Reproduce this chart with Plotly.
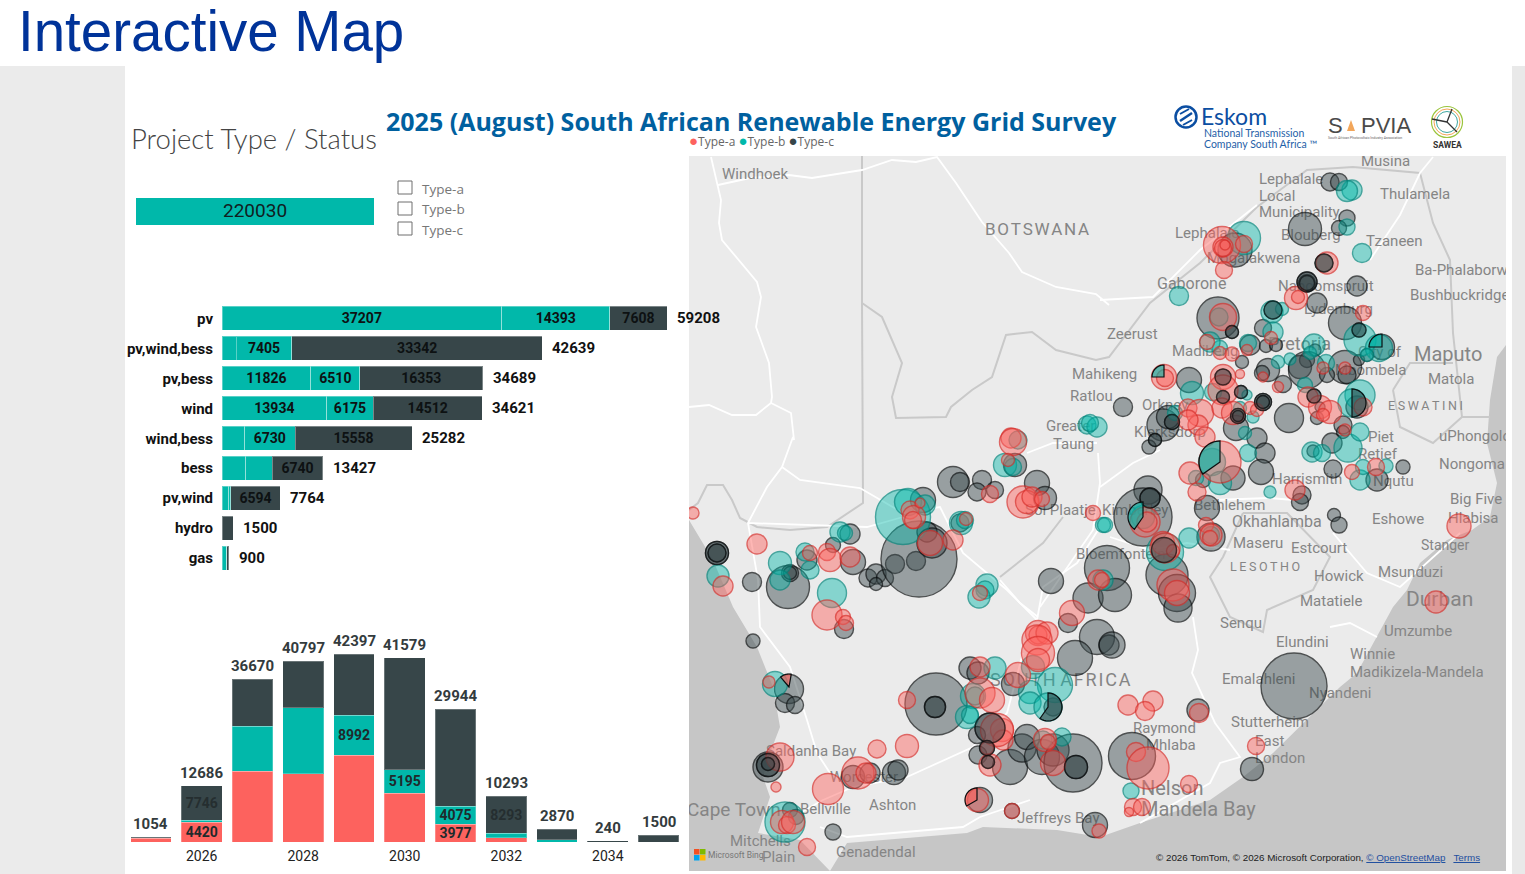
import math

import plotly.graph_objects as go

W = 1525
H = 874

TEAL = "#01B8AA"
DARK = "#374649"
RED = "#FD625E"
LABEL_FONT = "Roboto, sans-serif"

# project type chart
project_types = ["pv", "pv,wind,bess", "pv,bess", "wind", "wind,bess", "bess", "pv,wind", "hydro", "gas"]
type_a_mw = [37207, 1892, 11826, 13934, 2994, 3153, 900, 0, 600]
type_b_mw = [14393, 7405, 6510, 6175, 6730, 3534, 270, 0, 0]
type_c_mw = [7608, 33342, 16353, 14512, 15558, 6740, 6594, 1500, 300]
type_totals = [59208, 42639, 34689, 34621, 25282, 13427, 7764, 1500, 900]
type_a_text = ["37207", "", "11826", "13934", "", "", "", "", ""]
type_b_text = ["14393", "7405", "6510", "6175", "6730", "", "", "", ""]
type_c_text = ["7608", "33342", "16353", "14512", "15558", "6740", "6594", "", ""]

# yearly chart
years = [2025, 2026, 2027, 2028, 2029, 2030, 2031, 2032, 2033, 2034, 2035]
year_a_mw = [800, 4420, 16000, 15340, 19620, 11050, 3977, 1000, 0, 0, 0]
year_b_mw = [150, 520, 10150, 14890, 8992, 5195, 4075, 1000, 500, 0, 0]
year_c_mw = [104, 7746, 10520, 10567, 13785, 25334, 21892, 8293, 2370, 240, 1500]
year_totals = [1054, 12686, 36670, 40797, 42397, 41579, 29944, 10293, 2870, 240, 1500]
year_a_text = ["", "4420", "", "", "", "", "3977", "", "", "", ""]
year_b_text = ["", "", "", "", "8992", "5195", "4075", "", "", "", ""]
year_c_text = ["", "7746", "", "", "", "", "", "8293", "", "", ""]

# map bubbles in map units
bubble_c_x = [1330, 1339, 1347, 1339, 1305, 1324, 1307, 1307, 1357, 1317, 1273, 1218, 1232, 1345, 1359, 1382, 1263, 1250, 1266, 1276,
              1242, 1315, 1307, 1300, 1307, 1345, 1359, 1367, 1268, 1262, 1283, 1327, 1347, 1189, 1223, 1241, 1223, 1263, 1263, 1238,
              1238, 1289, 1123, 1163, 1172, 1168, 1155, 1149, 1236, 1314, 1320, 1357, 1317, 1343, 1343, 1257, 1265, 1261, 1332, 1313,
              1333, 1403, 1377, 1233, 1203, 1148, 1302,
              717, 717, 752, 788, 790, 790, 807, 833, 850, 853, 868, 876, 885, 876, 895, 916, 919, 927, 932, 923, 953, 960, 982, 977, 995,
              960, 1015, 1037, 1045, 1051, 1107, 1088, 1068, 1097, 1109, 1075, 844, 753, 789, 785, 795, 970, 978, 936, 935, 1013, 1053,
              990, 977, 987, 978, 988, 1010, 1022, 1027, 1042, 1053, 1073, 1076, 768, 768, 768, 853, 870, 894, 898, 790, 796, 833, 980,
              1012, 1095,
              1143, 1150, 1207, 1300, 1334, 1339, 1211, 1164, 1167, 1177, 1178, 1115, 1112, 1294, 1198, 1132, 1252, 1235]
bubble_c_y = [182, 182, 218, 228, 229, 263, 282, 283, 286, 303, 310, 318, 332, 323, 330, 347, 328, 345, 346, 345,
              362, 350, 360, 367, 370, 367, 360, 355, 370, 373, 384, 375, 375, 380, 377, 392, 397, 402, 402, 416,
              416, 418, 407, 425, 422, 417, 440, 447, 428, 396, 407, 407, 418, 425, 432, 438, 453, 472, 443, 451,
              469, 467, 480, 478, 480, 490, 495,
              553, 553, 582, 587, 573, 573, 560, 545, 534, 562, 578, 574, 578, 584, 564, 561, 559, 532, 543, 500, 482, 482, 480, 492, 490,
              523, 465, 483, 498, 581, 568, 598, 623, 637, 645, 658, 629, 641, 689, 703, 705, 668, 673, 704, 707, 684, 707,
              728, 735, 748, 755, 762, 767, 748, 737, 757, 750, 763, 767, 767, 765, 764, 777, 773, 773, 770, 810, 817, 832, 800,
              811, 825,
              517, 498, 508, 502, 515, 525, 537, 550, 575, 593, 608, 595, 645, 686, 710, 756, 769, 250]
bubble_c_size = [18, 17, 16, 15, 33, 18, 20, 17, 20, 20, 18, 42, 13, 33, 14, 25, 17, 20, 13, 13,
                 13, 12, 15, 23, 37, 33, 11, 13, 23, 15, 17, 15, 18, 25, 16, 13, 13, 17, 13, 15,
                 11, 29, 19, 32, 15, 23, 13, 14, 25, 14, 10, 22, 13, 18, 13, 20, 20, 25, 20, 12,
                 18, 14, 22, 24, 15, 28, 18,
                 23, 18, 19, 43, 17, 13, 20, 15, 20, 25, 18, 20, 17, 13, 19, 19, 76, 20, 30, 25, 31, 19, 19, 18, 17,
                 18, 23, 25, 23, 25, 45, 30, 19, 35, 20, 35, 19, 14, 29, 19, 17, 22, 22, 62, 21, 23, 18,
                 30, 17, 15, 18, 13, 35, 28, 25, 35, 32, 58, 23, 30, 23, 13, 23, 20, 23, 20, 15, 15, 16, 25,
                 15, 25,
                 58, 20, 25, 17, 13, 16, 28, 25, 42, 37, 28, 33, 26, 66, 22, 47, 23, 34]

bubble_b_x = [1352, 1347, 1347, 1362, 1324, 1244, 1179, 1272, 1282, 1219, 1273, 1248, 1220, 1210, 1314, 1310, 1360, 1379, 1367, 1290,
              1278, 1326, 1305, 1360, 1352, 1192, 1213, 1247, 1175, 1240, 1245, 1253, 1248, 1212, 1196, 1220, 1270, 1312, 1322, 1348,
              1360, 1360, 1363, 1386,
              1087, 1097, 1090, 1018, 1005, 1013, 903, 908, 925, 961, 965, 840, 845, 718, 780, 780, 805, 810, 832, 987, 985, 979,
              1103, 1105, 775, 995, 973, 975, 967, 970, 1033, 1055, 1030, 1030, 1048, 1062, 1043, 785,
              1143, 1189, 1165, 1103, 1131, 1211]
bubble_b_y = [190, 191, 227, 253, 263, 238, 296, 312, 309, 317, 332, 343, 348, 342, 345, 353, 340, 348, 355, 359,
              362, 363, 385, 395, 403, 393, 392, 395, 413, 408, 433, 417, 453, 462, 478, 483, 492, 452, 453, 448,
              432, 480, 467, 466,
              425, 427, 423, 440, 465, 467, 517, 502, 505, 523, 520, 532, 533, 576, 563, 580, 552, 570, 593, 585, 590, 597,
              525, 525, 684, 668, 696, 696, 717, 715, 667, 685, 692, 703, 707, 737, 740, 822,
              517, 538, 552, 580, 791, 535]
bubble_b_size = [20, 21, 16, 19, 17, 33, 19, 22, 13, 18, 20, 17, 15, 20, 22, 13, 32, 27, 13, 12,
                 13, 17, 15, 30, 28, 23, 17, 10, 15, 13, 13, 12, 17, 27, 15, 23, 12, 20, 17, 28,
                 18, 20, 15, 14,
                 18, 20, 17, 18, 23, 17, 55, 27, 20, 23, 17, 20, 15, 22, 23, 20, 18, 18, 29, 22, 18, 22,
                 15, 15, 25, 22, 25, 18, 23, 17, 23, 35, 23, 22, 28, 18, 18, 40,
                 23, 20, 37, 20, 16, 17]

bubble_a_x = [1327, 1222, 1223, 1223, 1225, 1244, 1224, 1296, 1298, 1363, 1223, 1207, 1220, 1232, 1247, 1271, 1164, 1165, 1240, 1223,
              1223, 1263, 1345, 1323, 1278, 1188, 1200, 1198, 1188, 1205, 1222, 1250, 1257, 1308, 1320, 1330, 1323, 1363, 1345, 1220,
              1190, 1197, 1295, 1352, 1376, 1233,
              693, 757, 723, 810, 827, 830, 850, 827, 843, 846, 910, 914, 913, 920, 930, 953, 966, 1011, 1013, 1008, 990, 1023, 1027,
              1032, 1042, 1093, 1098, 1072, 980, 1038, 1038, 1047, 1037, 1038, 1038, 1018, 980, 980, 992, 907, 1002, 1003, 997, 907, 877,
              780, 776, 769, 858, 866, 828, 807, 782, 787, 793, 977, 1012, 1099, 987, 990, 1045, 1048, 1053,
              1145, 1147, 1163, 1165, 1173, 1173, 1177, 1206, 1211, 1210, 1102, 1459, 1436, 1128, 1153, 1145, 1199, 1256, 1136, 1148, 1189,
              1133, 1142, 1129]
bubble_a_y = [263, 245, 247, 248, 245, 244, 270, 298, 297, 313, 317, 342, 353, 354, 350, 338, 377, 378, 374, 377,
              390, 377, 368, 368, 387, 408, 413, 425, 420, 437, 408, 408, 410, 397, 407, 412, 415, 407, 430, 462,
              473, 492, 490, 472, 467, 413,
              513, 544, 586, 553, 552, 560, 557, 615, 617, 623, 510, 517, 520, 503, 543, 540, 519, 438, 442, 460, 494, 502, 502,
              497, 499, 513, 580, 613, 593, 633, 635, 633, 640, 653, 660, 675, 667, 693, 700, 700, 730, 740, 730, 746, 749,
              757, 787, 682, 773, 773, 789, 847, 822, 825, 822, 800, 811, 831, 748, 765, 740, 742, 763,
              522, 522, 543, 548, 551, 585, 593, 525, 535, 538, 580, 526, 602, 705, 701, 711, 713, 746, 752, 768, 784,
              807, 807, 812]
bubble_a_size = [22, 37, 20, 17, 10, 17, 17, 23, 13, 15, 27, 15, 13, 14, 11, 13, 25, 17, 9, 25,
                 30, 10, 12, 12, 11, 18, 27, 20, 20, 20, 20, 13, 13, 20, 23, 23, 13, 18, 12, 42,
                 22, 18, 20, 15, 17, 23,
                 12, 20, 20, 15, 17, 23, 20, 30, 15, 15, 18, 23, 17, 10, 25, 20, 13, 20, 27, 13, 17, 32, 23,
                 20, 15, 15, 20, 25, 15, 25, 18, 22, 30, 33, 23, 25, 20, 30, 25, 17, 23, 20, 33, 23, 18,
                 28, 10, 12, 32, 20, 31, 17, 23, 17, 23, 23, 15, 14, 13, 22, 23, 15, 25,
                 30, 20, 23, 30, 13, 32, 25, 15, 22, 15, 15, 24, 22, 20, 20, 19, 19, 17, 19, 42, 17,
                 17, 17, 9]

# grey bubbles that sit over the red ones
bubble_top_x = [717, 717, 1307, 1307, 1273, 1223, 1241, 1223, 1263, 1263, 1238, 1238, 1314, 1172, 1155, 768, 768, 990, 987, 988, 1359, 1324, 1232, 1076, 935, 1150, 1164]
bubble_top_y = [553, 553, 282, 283, 310, 377, 392, 397, 402, 402, 416, 416, 396, 422, 440, 765, 764, 728, 748, 762, 330, 263, 332, 767, 707, 498, 550]
bubble_top_size = [23, 18, 20, 15, 18, 16, 13, 13, 17, 13, 15, 11, 14, 15, 13, 23, 13, 30, 15, 13, 14, 18, 13, 23, 21, 20, 25]

# bubbles split into two slices: centre, radius, clockwise angles from north, colour
pie_x = [977, 1382, 1048, 789, 1220, 1143, 1164, 1352]
pie_y = [800, 347, 707, 687, 462, 517, 377, 403]
pie_r = [12, 13, 14, 13, 21, 15, 12, 14]
pie_start = [240, 270, 0, 320, 235, 215, 270, 0]
pie_end = [360, 360, 215, 370, 360, 360, 360, 180]
pie_color = ["rgba(253,98,94,0.65)", "rgba(1,184,170,0.62)", "rgba(55,70,73,0.6)", "rgba(253,98,94,0.65)",
             "rgba(1,184,170,0.62)", "rgba(1,184,170,0.62)", "rgba(1,184,170,0.62)", "rgba(55,70,73,0.6)"]

# map background
sea_x = [689, 713, 733, 757, 773, 780, 770, 763, 770, 758, 800, 830, 689, None,
         1506, 1497, 1490, 1487, 1497, 1490, 1472, 1447, 1420, 1407, 1393, 1377, 1357, 1340, 1307, 1273, 1243, 1210, 1140, 1100, 1057, 983, 967, 847, 830, 1506]
sea_y = [520, 560, 607, 647, 687, 727, 753, 777, 797, 833, 840, 871, 871, None,
         345, 357, 400, 443, 483, 517, 530, 540, 563, 590, 607, 637, 673, 687, 720, 753, 777, 800, 823, 837, 830, 827, 833, 843, 871, 871]

road_x = [711, 718, 721, 719, 722, 757, 761, 756, 769, 772, 771, 756, 732, 709, 689, None,
          771, 791, 794, 793, 782, 767, 748, 758, 760, 790, 807, 817, 830, None,
          718, 750, 789, 812, 862, 892, 916, 937, 956, 982, 1009, 1022, 1056, 1096, 1109, None,
          782, 800, 860, 903, 940, 963, 1007, 1037, 1043, 1077, 1098, None,
          748, 867, 903, None,
          1023, 1007, 973, 907, 853, 823, 800, None,
          820, 847, 963, 980, 1030, None,
          1193, 1198, 1192, 1215, 1240, 1220, 1210, 1140, None,
          1027, 1053, 1097, None,
          1098, 1100, 1093, 1040, None,
          1100, 1133, 1160, None,
          1000, 1020, 1038, None,
          1110, 1150, 1187, 1230, None,
          1293, 1270, 1213, None,
          1333, 1367, 1400, 1433, 1460, None,
          1330, 1350, 1377, None,
          1100, 1153, 1200, 1257, None,
          1433, 1420, 1400, 1370]
road_y = [157, 185, 200, 223, 240, 282, 297, 327, 363, 397, 403, 415, 415, 405, 407, None,
          403, 413, 440, 437, 467, 487, 523, 580, 627, 667, 720, 753, 773, None,
          185, 178, 175, 178, 170, 160, 162, 157, 183, 222, 253, 272, 287, 294, 305, None,
          467, 480, 488, 513, 507, 553, 590, 620, 587, 563, 530, None,
          523, 527, 517, None,
          653, 713, 747, 777, 787, 800, 813, None,
          827, 837, 827, 817, 800, None,
          617, 650, 673, 723, 757, 763, 783, 823, None,
          453, 443, 443, None,
          453, 483, 530, 607, None,
          487, 463, 450, None,
          580, 603, 617, None,
          537, 550, 543, 550, None,
          500, 498, 500, None,
          533, 573, 587, 557, 533, None,
          627, 623, 637, None,
          300, 297, 250, 205, None,
          157, 173, 215, 260]

border_x = [862, 862, 863, 827, 790, 757, 740, 732, 723, 707, 698, 689, None,
            862, 882, 902, 892, 896, 946, 951, 972, 992, 1006, 1032, 1056, 1096, 1109, 1150, 1200, 1257, 1307, 1353, 1420, 1433, 1450, 1453, 1462, 1490, None,
            1393, 1410, 1453, None,
            1462, 1433, 1400, 1393, None,
            1243, 1287, 1330, 1313, 1267, 1263, 1230, 1210, 1223, 1243, None,
            1000, 1043, 1063]
border_y = [156, 303, 503, 527, 530, 527, 518, 500, 485, 485, 503, 510, None,
            303, 317, 363, 397, 418, 417, 407, 390, 377, 335, 332, 350, 360, 357, 303, 263, 207, 170, 167, 173, 223, 260, 333, 417, 417, None,
            390, 363, 363, None,
            417, 443, 427, 390, None,
            513, 513, 557, 590, 610, 632, 617, 577, 557, 513, None,
            577, 543, 517]

# place names on the map
place_names = ["Windhoek", "B\u200aO\u200aT\u200aS\u200aW\u200aA\u200aN\u200aA", "Lephalale", "Local", "Municipality", "Musina", "Thulamela", "Blouberg", "Tzaneen", "Lephalale",
               "Mogalakwena", "Ba-Phalaborwa", "Bushbuckridge", "Gaborone", "Naboomspruit", "Lydenburg", "Zeerust", "Madibeng", "Pretoria", "Maputo",
               "Matola", "City of", "Mbombela", "Mahikeng", "Ratlou", "Orkney", "Klerksdorp", "Greater", "Taung", "E\u2009S\u2009W\u2009A\u2009T\u2009I\u2009N\u2009I",
               "uPhongolo", "Nongoma", "Piet", "Retief", "Harrismith", "Big Five", "Hlabisa", "Nqutu", "Bethlehem", "Sol Plaatje",
               "Kimberley", "Okhahlamba", "Eshowe", "Maseru", "Estcourt", "Stanger", "Bloemfontein", "L\u2009E\u2009S\u2009O\u2009T\u2009H\u2009O", "Howick", "Msunduzi",
               "Matatiele", "Durban", "Senqu", "Umzumbe", "Elundini", "Winnie", "Madikizela-Mandela", "Emalahleni", "Nyandeni", "S\u200aO\u200aU\u200aT\u200aH A\u200aF\u200aR\u200aI\u200aC\u200aA",
               "Stutterheim", "Raymond", "Mhlaba", "East", "London", "Saldanha Bay", "Ashton", "Worcester", "Cape Town", "Bellville",
               "Mitchells", "Plain", "Genadendal", "Jeffreys Bay", "Nelson", "Mandela Bay"]
place_x = [722, 985, 1259, 1259, 1259, 1361, 1380, 1281, 1366, 1175,
           1207, 1415, 1410, 1157, 1278, 1304, 1107, 1172, 1268, 1414,
           1428, 1358, 1335, 1072, 1070, 1142, 1134, 1046, 1053, 1388,
           1439, 1439, 1368, 1358, 1272, 1450, 1448, 1373, 1194, 1025,
           1102, 1232, 1372, 1233, 1291, 1421, 1076, 1230, 1314, 1378,
           1300, 1406, 1220, 1384, 1276, 1350, 1350, 1222, 1309, 990,
           1231, 1133, 1146, 1255, 1255, 766, 869, 830, 687, 800,
           730, 762, 836, 1017, 1141, 1141]
place_y = [174, 230, 179, 196, 212, 161, 194, 235, 241, 233,
           258, 270, 295, 284, 286, 309, 334, 351, 344, 355,
           379, 352, 370, 374, 396, 405, 432, 426, 444, 406,
           436, 464, 437, 454, 479, 499, 518, 481, 505, 510,
           510, 522, 519, 543, 548, 545, 554, 567, 576, 572,
           601, 600, 623, 631, 642, 654, 672, 679, 693, 680,
           722, 728, 745, 741, 758, 751, 805, 777, 810, 809,
           841, 857, 852, 818, 789, 810]
place_size = [15, 17, 15, 15, 15, 15, 15, 15, 15, 15,
              15, 15, 15, 16, 15, 15, 15, 15, 18, 20,
              15, 15, 15, 15, 15, 15, 15, 15, 15, 12.5,
              15, 15, 15, 15, 15, 15, 15, 15, 15, 15,
              15, 16, 15, 15, 15, 14, 15, 12.5, 15, 15,
              15, 21, 15, 15, 15, 15, 15, 15, 15, 18,
              15, 15, 15, 15, 15, 15, 15, 15, 19, 15,
              15, 15, 15, 15, 20, 20]


def px(x):
    return x / W


def py(y):
    return 1 - y / H


def rect(x0, y0, x1, y1, fill, line=None, layer="below"):
    return dict(type="rect", xref="paper", yref="paper", x0=px(x0), x1=px(x1), y0=py(y0), y1=py(y1),
                fillcolor=fill, line=dict(color=line or fill, width=1 if line else 0), layer=layer)


def circle(cx, cy, r, line, width=1.5, fill="rgba(0,0,0,0)"):
    return dict(type="circle", xref="paper", yref="paper", x0=px(cx - r), x1=px(cx + r), y0=py(cy + r), y1=py(cy - r),
                fillcolor=fill, line=dict(color=line, width=width), layer="above")


def seg(x0, y0, x1, y1, color, width=1.5):
    return dict(type="line", xref="paper", yref="paper", x0=px(x0), x1=px(x1), y0=py(y0), y1=py(y1),
                line=dict(color=color, width=width), layer="above")


def wedge(cx, cy, r, start, end, color):
    points = [f"M {cx} {cy}"]
    for step in range(25):
        angle = math.radians(start + (end - start) * step / 24)
        points.append(f"L {cx + r * math.sin(angle):.2f} {cy - r * math.cos(angle):.2f}")
    return dict(type="path", xref="x3", yref="y3", path=" ".join(points) + " Z", fillcolor=color,
                line=dict(color="#0b0f10", width=1.2), layer="above")


def note(x, y, text, size, color, family="Roboto, sans-serif", anchor="left", weight=400):
    return dict(xref="paper", yref="paper", x=px(x), y=py(y), text=text, showarrow=False, xanchor=anchor, yanchor="middle",
                font=dict(size=size, color=color, family=family, weight=weight), borderpad=0)


def add_type_bars(fig):
    series = [(type_a_mw, type_a_text, TEAL, "#0d1112"), (type_b_mw, type_b_text, TEAL, "#0d1112"), (type_c_mw, type_c_text, DARK, "#0d1112")]
    for values, labels, color, text_color in series:
        fig.add_trace(go.Bar(
            y=project_types, x=values, orientation="h", text=labels, xaxis="x", yaxis="y",
            marker=dict(color=color, line=dict(color="rgba(255,255,255,0.35)", width=1)),
            textposition="inside", insidetextanchor="middle", textangle=0, constraintext="none",
            textfont=dict(size=14, color=text_color, family=LABEL_FONT, weight="bold"),
        ))


def add_year_bars(fig):
    series = [(year_a_mw, year_a_text, RED, "#1f2a2c"), (year_b_mw, year_b_text, TEAL, "#1f2a2c"), (year_c_mw, year_c_text, DARK, "#252e30")]
    for values, labels, color, text_color in series:
        fig.add_trace(go.Bar(
            x=years, y=values, text=labels, xaxis="x2", yaxis="y2",
            marker=dict(color=color, line=dict(color="rgba(255,255,255,0.25)", width=1)),
            textposition="inside", insidetextanchor="middle", textangle=0, constraintext="none",
            textfont=dict(size=14, color=text_color, family=LABEL_FONT, weight="bold"),
        ))


def add_map(fig):
    fig.add_trace(go.Scatter(x=sea_x, y=sea_y, mode="lines", fill="toself", fillcolor="#c6c6c6", line=dict(width=0),
                             xaxis="x3", yaxis="y3"))
    fig.add_trace(go.Scatter(x=border_x, y=border_y, mode="lines", line=dict(color="#c9c9c9", width=2),
                             xaxis="x3", yaxis="y3"))
    fig.add_trace(go.Scatter(x=road_x, y=road_y, mode="lines", line=dict(color="#ffffff", width=1.8),
                             xaxis="x3", yaxis="y3"))
    fig.add_trace(go.Scatter(x=place_x, y=[y + 1 for y in place_y], mode="text", text=place_names, textposition="middle right",
                             textfont=dict(size=place_size, color="#858585", family="Roboto, sans-serif"),
                             xaxis="x3", yaxis="y3"))
    bubbles = [
        (bubble_c_x, bubble_c_y, bubble_c_size, "rgba(55,70,73,0.65)", "#0b0f10"),
        (bubble_b_x, bubble_b_y, bubble_b_size, "rgba(1,184,170,0.62)", "#01877d"),
        (bubble_a_x, bubble_a_y, bubble_a_size, "rgba(253,98,94,0.65)", "#d92f2b"),
        (bubble_top_x, bubble_top_y, bubble_top_size, "rgba(55,70,73,0.65)", "#0b0f10"),
    ]
    for xs, ys, sizes, fill, edge in bubbles:
        fig.add_trace(go.Scatter(x=xs, y=ys, mode="markers", xaxis="x3", yaxis="y3",
                                 marker=dict(size=sizes, sizemode="diameter", color=fill, line=dict(color=edge, width=1.4))))


def page_shapes():
    shapes = [
        rect(0, 66, 125, H, "#ebebeb"),
        rect(1512, 66, W, H, "#e9e9e9"),
        rect(689, 156, 1506, 871, "#ebebeb"),
        rect(136, 198, 374, 225, "#00B8AA"),
    ]
    for top in (181, 202, 222):
        shapes.append(rect(398, top, 412, top + 13, "#ffffff", line="#6f6f6f", layer="above"))
    for cx, cy, r, start, end, color in zip(pie_x, pie_y, pie_r, pie_start, pie_end, pie_color):
        shapes.append(wedge(cx, cy, r, start, end, color))
    # logos
    shapes.append(circle(1186, 117, 10.5, "#0b4ea2", width=2.5))
    shapes.append(seg(1180, 121, 1192, 113, "#0b4ea2", 2.5))
    shapes.append(seg(1180, 114, 1189, 109, "#0b4ea2", 2))
    shapes.append(seg(1183, 125, 1192, 120, "#0b4ea2", 2))
    shapes.append(dict(type="path", xref="paper", yref="paper", layer="above", line=dict(width=0), fillcolor="#f2a65a",
                       path=f"M {px(1347)} {py(131)} L {px(1351)} {py(120)} L {px(1355)} {py(131)} Z"))
    shapes.append(circle(1447, 122, 15.5, "#9bc53d", width=1.2))
    shapes.append(circle(1447, 122, 13, "#f2a65a", width=1))
    shapes.append(circle(1447, 122, 10.5, "#3fa7a0", width=1))
    shapes.append(seg(1447, 122, 1452, 109, "#333333", 1.3))
    shapes.append(seg(1447, 122, 1432, 119, "#333333", 1.3))
    shapes.append(seg(1447, 122, 1457, 132, "#333333", 1.3))
    # bing squares
    for x0, y0, color in [(694, 849, "#f25022"), (700, 849, "#7fba00"), (694, 855, "#00a4ef"), (700, 855, "#ffb900")]:
        shapes.append(rect(x0, y0, x0 + 5.5, y0 + 5.5, color, layer="above"))
    return shapes


def dot(color):
    return f"<span style='color:{color};font-size:15px'>●</span>"


def page_notes():
    notes = [
        note(17, 32, "Interactive Map", 56.5, "#003399", family="Liberation Sans, Arial, sans-serif"),
        note(385, 121, "<b>2025 (August) South African Renewable Energy Grid Survey</b>", 25, "#00609f", family="Open Sans, sans-serif"),
        note(130, 138, "Project Type / Status", 27.5, "#444444", family="Lato, sans-serif", weight=300),
        note(255, 210, "220030", 19, "#10201f", anchor="center"),
        note(421, 189, "Type-a", 13.5, "#777777", family="Open Sans, sans-serif"),
        note(421, 209, "Type-b", 13.5, "#777777", family="Open Sans, sans-serif"),
        note(421, 230, "Type-c", 13.5, "#777777", family="Open Sans, sans-serif"),
        note(688, 140, f"{dot(RED)}Type-a {dot(TEAL)}Type-b {dot(DARK)}Type-c", 12, "#666666", family="Open Sans, sans-serif"),
        note(1200, 116, "Eskom", 23, "#0b4ea2", family="Lato, sans-serif"),
        note(1203, 133, "National Transmission", 10.5, "#1f5fa8", family="Lato, sans-serif"),
        note(1203, 144, "Company South Africa ™", 10.5, "#1f5fa8", family="Lato, sans-serif"),
        note(1327, 126, "S", 22, "#4a4a4a", family="Liberation Sans, sans-serif"),
        note(1360, 126, "PVIA", 22, "#4a4a4a", family="Liberation Sans, sans-serif"),
        note(1327, 138, "South African Photovoltaic Industry Association", 3.5, "#666666"),
        note(1447, 145, "<b>SAWEA</b>", 8.5, "#333333", anchor="center"),
        note(707, 855, "Microsoft Bing", 8.5, "#777777"),
        note(1155, 857, "© 2026 TomTom, © 2026 Microsoft Corporation, <span style='color:#1f4fa0'><u>© OpenStreetMap</u></span>   <span style='color:#1f4fa0'><u>Terms</u></span>",
             9.8, "#222222", family="Liberation Sans, sans-serif"),
    ]
    for name, total in zip(project_types, type_totals):
        notes.append(dict(xref="x", yref="y", x=total, y=name, text=f"<b>{total}</b>", showarrow=False, xanchor="left", xshift=8,
                          font=dict(size=15, color="#111111", family=LABEL_FONT)))
    for year, total in zip(years, year_totals):
        notes.append(dict(xref="x2", yref="y2", x=year, y=total, text=f"<b>{total}</b>", showarrow=False, yanchor="bottom", yshift=2,
                          font=dict(size=15, color="#333b3d", family=LABEL_FONT)))
    return notes


fig = go.Figure()
add_type_bars(fig)
add_year_bars(fig)
add_map(fig)

hidden = dict(visible=False, fixedrange=True)
fig.update_layout(
    width=W,
    height=H,
    margin=dict(l=0, r=0, t=0, b=0),
    paper_bgcolor="#ffffff",
    plot_bgcolor="rgba(0,0,0,0)",
    barmode="stack",
    bargap=0.2,
    showlegend=False,
    hovermode=False,
    shapes=page_shapes(),
    annotations=page_notes(),
    xaxis=dict(domain=[px(222), px(689)], range=[0, 62133], anchor="y", **hidden),
    yaxis=dict(domain=[py(573), py(303.5)], range=[8.5, -0.5], type="category", categoryorder="array", categoryarray=project_types,
               anchor="x", showgrid=False, zeroline=False, showline=False, ticks="", ticklabelstandoff=8, fixedrange=True,
               tickfont=dict(size=15, color="#111111", family=LABEL_FONT, weight="bold")),
    xaxis2=dict(domain=[px(125.6), px(683.9)], range=[2024.5, 2035.5], anchor="y2", tick0=2026, dtick=2, showgrid=False, zeroline=False,
                showline=False, ticks="", ticklabelstandoff=4, fixedrange=True, tickfont=dict(size=14, color="#222222", family=LABEL_FONT)),
    yaxis2=dict(domain=[py(842), py(630)], range=[0, 47812], anchor="x2", **hidden),
    xaxis3=dict(domain=[px(689), px(1506)], range=[689, 1506], anchor="y3", **hidden),
    yaxis3=dict(domain=[py(871), py(156)], range=[871, 156], anchor="x3", **hidden),
)

fig.write_html("out.html", config={"displayModeBar": False},
               post_script="document.body.style.margin='0';document.body.style.overflow='hidden';")
